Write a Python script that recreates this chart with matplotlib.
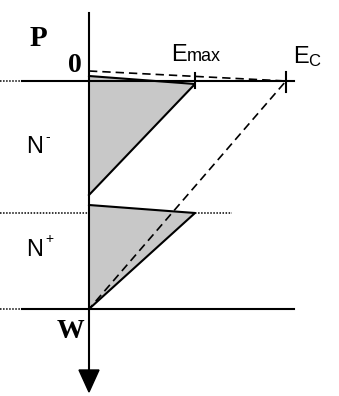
import matplotlib
matplotlib.use("Agg")
import matplotlib.pyplot as plt
from matplotlib.patches import Polygon

# positions in picture units (x: field, y: depth downward)
x_axis = 89          # field = 0
x_emax = 195         # E max
x_ec = 286           # E critical
y_pn = 81            # P / N- junction
y_nn = 213           # N- / N+ junction
y_w = 309            # end of N+ (W)

# N- field triangle
tri1_x = [89, 195, 89]
tri1_y = [76, 84, 195]
# N+ field triangle
tri2_x = [89, 195, 89]
tri2_y = [205, 213, 309]
# critical field (dashed)
dash_x = [89, 286, 89]
dash_y = [71, 81, 309]

fig = plt.figure(figsize=(3.39, 3.96), dpi=100)
ax = fig.add_axes([0, 0, 1, 1])
ax.set_xlim(0, 339)
ax.set_ylim(396, 0)
ax.axis("off")

lw = 1.5
grey = "#c8c8c8"

# fills
ax.add_patch(Polygon(list(zip(tri1_x, tri1_y)), closed=True, facecolor=grey, edgecolor="none"))
ax.add_patch(Polygon(list(zip(tri2_x, tri2_y)), closed=True, facecolor=grey, edgecolor="none"))

# horizontal boundary lines
dots = (0, (1, 1))
ax.plot([0, 22], [y_pn, y_pn], color="k", lw=1.1, ls=dots)
ax.plot([22, 294], [y_pn, y_pn], color="k", lw=lw)
ax.plot([0, x_axis], [y_nn, y_nn], color="k", lw=1.1, ls=dots)
ax.plot([x_emax, 232], [y_nn, y_nn], color="k", lw=1.1, ls=dots)
ax.plot([0, 22], [y_w, y_w], color="k", lw=1.1, ls=dots)
ax.plot([22, 294], [y_w, y_w], color="k", lw=lw)

# triangle outlines (top + diagonal)
ax.plot(tri1_x, tri1_y, color="k", lw=lw)
ax.plot(tri2_x, tri2_y, color="k", lw=lw)

# dashed critical profile
ax.plot(dash_x, dash_y, color="k", lw=1.2, ls=(0, (5, 3)))

# ticks at Emax and Ec
ax.plot([x_emax, x_emax], [73, 88], color="k", lw=lw)
ax.plot([x_ec, x_ec], [72, 92], color="k", lw=lw)

# vertical axis with arrow head
ax.plot([x_axis, x_axis], [13, 372], color="k", lw=lw)
ax.add_patch(Polygon([(79, 370), (99, 370), (89, 392)], closed=True, facecolor="k", edgecolor="k"))

# labels
serif = "Liberation Serif"
sans = "Liberation Sans"
ax.text(38.5, 38, "P", family=serif, weight="bold", fontsize=21, ha="center", va="center")
ax.text(74.5, 66, "0", family=serif, weight="bold", fontsize=20, ha="center", va="center")
ax.text(70.5, 331, "W", family=serif, weight="bold", fontsize=20, ha="center", va="center")

ax.text(26, 153, "N", family=sans, fontsize=17, ha="left", va="baseline")
ax.text(45, 141, "-", family=sans, fontsize=10, ha="left", va="baseline")
ax.text(26, 256, "N", family=sans, fontsize=17, ha="left", va="baseline")
ax.text(45, 243, "+", family=sans, fontsize=10, ha="left", va="baseline")

ax.text(171, 61, "E", family=sans, fontsize=17, ha="left", va="baseline")
ax.text(187, 61, "max", family=sans, fontsize=13, ha="left", va="baseline")
ax.text(293, 63, "E", family=sans, fontsize=17, ha="left", va="baseline")
ax.text(308, 66, "C", family=sans, fontsize=12, ha="left", va="baseline")

fig.savefig("out.png", dpi=100)
